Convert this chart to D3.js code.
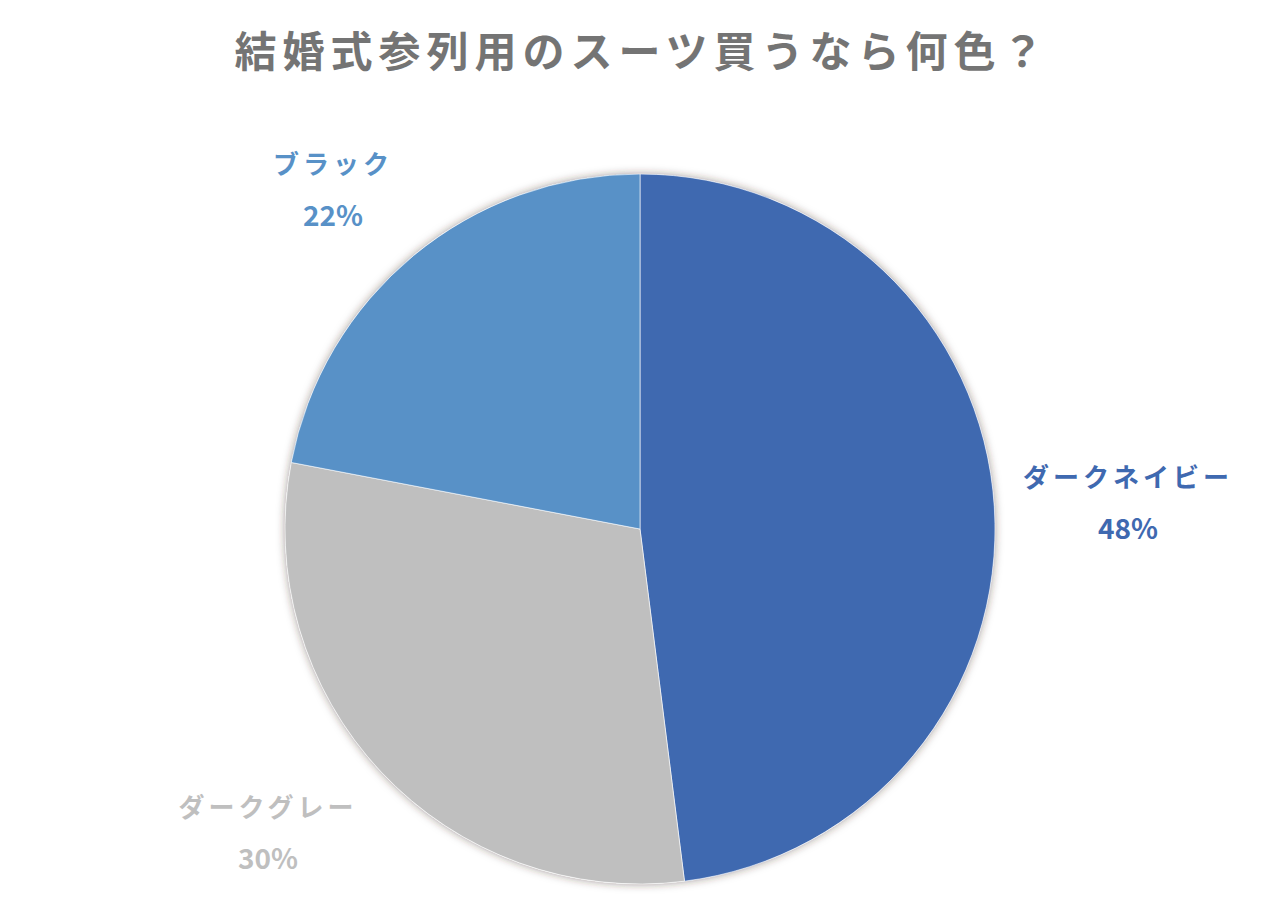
<!DOCTYPE html>
<html><head><meta charset="utf-8">
<script src="https://cdn.jsdelivr.net/npm/d3@7/dist/d3.min.js"></script>
<style>
html,body{margin:0;padding:0;background:#fff;}
svg{display:block;}
text{font-family:"Noto Sans CJK JP","Noto Sans",sans-serif;font-weight:700;}
</style></head>
<body>
<script>
const title = "結婚式参列用のスーツ買うなら何色？";
const categories = ["ダークネイビー", "ダークグレー", "ブラック"];
const values = [48, 30, 22];
const colors = ["#3F69B0", "#BFBFBF", "#5891C7"];
const labelColors = ["#3F69B0", "#BFBFBF", "#5891C7"];

const W = 1280, H = 900;
const cx = 640, cy = 529, R = 355;

const svg = d3.select("body").append("svg").attr("width", W).attr("height", H);

const defs = svg.append("defs");
const f = defs.append("filter").attr("id","sh").attr("x","-10%").attr("y","-10%").attr("width","120%").attr("height","120%");
f.append("feDropShadow").attr("dx",0).attr("dy",0).attr("stdDeviation",4).attr("flood-color","#3a2a20").attr("flood-opacity",0.5);

svg.append("text")
  .attr("x", 642).attr("y", 67)
  .attr("text-anchor","middle")
  .attr("font-size", 42)
  .attr("letter-spacing", 6)
  .attr("fill", "#747474")
  .text(title);

const data = categories.map((c,i)=>({name:c, value:values[i], color:colors[i], lc:labelColors[i]}));
const pie = d3.pie().value(d=>d.value).sort(null);
const arcs = pie(data);
const arc = d3.arc().innerRadius(0).outerRadius(R);

const g = svg.append("g").attr("transform", `translate(${cx},${cy})`);
g.append("circle").attr("r", R).attr("fill", "#fff").attr("filter","url(#sh)");
g.selectAll("path").data(arcs).join("path")
  .attr("d", arc)
  .attr("fill", d=>d.data.color)
  .attr("stroke", "#fff")
  .attr("stroke-width", 1)
  .attr("stroke-opacity", 0.6);

// label positions (outside pie)
const labelPos = [[1128, 478], [268, 808], [333, 165]];
const lg = svg.append("g");
arcs.forEach((a,i)=>{
  const [x,y] = labelPos[i];
  lg.append("text").attr("x", x).attr("y", y+9)
    .attr("text-anchor","middle").attr("font-size", 26).attr("letter-spacing", 4)
    .attr("fill", a.data.lc).text(a.data.name);
  lg.append("text").attr("x", x).attr("y", y+61)
    .attr("text-anchor","middle").attr("font-size", 28)
    .attr("fill", a.data.lc).text(d3.format(".0f")(a.data.value) + "%");
});
</script>
</body></html>
